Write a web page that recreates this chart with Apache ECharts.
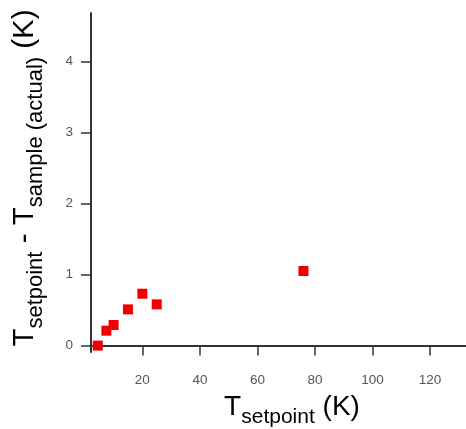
<!DOCTYPE html>
<html>
<head>
<meta charset="utf-8">
<script src="https://cdn.jsdelivr.net/npm/echarts@6/dist/echarts.min.js"></script>
<style>
  html, body { margin: 0; padding: 0; background: #fff; }
  #chart { width: 466px; height: 429px; }
</style>
</head>
<body>
<div id="chart"></div>
<script>
// Temperature offset between setpoint and measured sample temperature
const setpointK = [4.5, 7.5, 10, 15, 20, 25, 76];
const offsetK = [0.0, 0.21, 0.29, 0.51, 0.73, 0.58, 1.05];
const xTickValues = [20, 40, 60, 80, 100, 120];
const yTickValues = [0, 1, 2, 3, 4];

const points = setpointK.map((x, i) => [x, offsetK[i]]);

const axisColor = '#333';
const labelColor = '#555';
const fontFamily = 'Liberation Sans, Arial, sans-serif';

function titleRich(big, small, drop) {
  return {
    t: { fontSize: big, lineHeight: big, fontFamily, color: '#222', verticalAlign: 'top' },
    s: { fontSize: small, lineHeight: small, fontFamily, color: '#222', verticalAlign: 'top', padding: [drop, 0, 0, 0] }
  };
}

const chart = echarts.init(document.getElementById('chart'), null, { renderer: 'canvas' });
chart.setOption({
  backgroundColor: '#fff',
  animation: false,
  grid: { left: 91, right: 0, top: 13, bottom: 77 },
  xAxis: {
    type: 'value',
    min: 2.15,
    max: 132.5,
    splitLine: { show: false },
    axisLine: { lineStyle: { color: axisColor, width: 2 } },
    axisTick: { show: true, inside: false, length: 10, customValues: xTickValues, lineStyle: { color: axisColor, width: 1.5 } },
    axisLabel: { customValues: xTickValues, color: labelColor, fontSize: 13.5, fontFamily, margin: 21 }
  },
  yAxis: {
    type: 'value',
    min: -0.09,
    max: 4.68,
    splitLine: { show: false },
    axisLine: { show: true, lineStyle: { color: axisColor, width: 2 } },
    axisTick: { show: true, inside: false, length: 10, customValues: yTickValues, lineStyle: { color: axisColor, width: 1.5 } },
    axisLabel: { customValues: yTickValues, color: labelColor, fontSize: 13.5, fontFamily, margin: 18 }
  },
  series: [{
    type: 'scatter',
    data: points,
    symbol: 'rect',
    symbolSize: 10,
    itemStyle: { color: '#f00000', opacity: 1 }
  }],
  graphic: [
    {
      type: 'text',
      x: 292,
      y: 407,
      style: {
        text: '{t|T}{s|setpoint}{t| (K)}',
        rich: titleRich(28, 21, 14),
        align: 'center',
        verticalAlign: 'middle'
      }
    },
    {
      type: 'text',
      x: 25,
      y: 178,
      rotation: Math.PI / 2,
      style: {
        text: '{t|T}{s|setpoint}{t| - T}{s|sample (actual)}{t| (K)}',
        rich: titleRich(29.5, 22, 14.5),
        align: 'center',
        verticalAlign: 'middle'
      }
    }
  ]
});
</script>
</body>
</html>
